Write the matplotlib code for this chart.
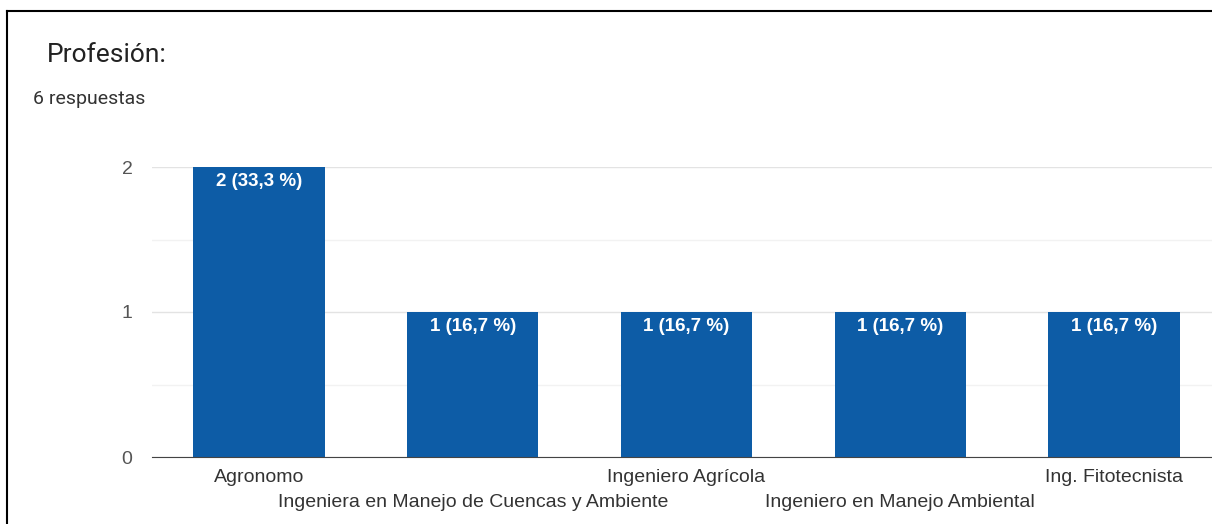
import matplotlib.pyplot as plt
from matplotlib.lines import Line2D

# datos de la encuesta
categorias = ['Agronomo', 'Ingeniera en Manejo de Cuencas y Ambiente', 'Ingeniero Agrícola',
              'Ingeniero en Manejo Ambiental', 'Ing. Fitotecnista']
respuestas = [2, 1, 1, 1, 1]
etiquetas = ['2 (33,3 %)', '1 (16,7 %)', '1 (16,7 %)', '1 (16,7 %)', '1 (16,7 %)']
total = 6

plt.rcParams['font.family'] = ['Liberation Sans', 'DejaVu Sans']

fig = plt.figure(figsize=(12.12, 5.24), dpi=100)
ax = fig.add_axes([152 / 1212, 67 / 524, 1069 / 1212, 290 / 524])

x = range(len(categorias))
ax.bar(x, respuestas, width=0.615, color='#0d5ca6', zorder=3)

# etiquetas dentro de las barras
for i, (v, t) in enumerate(zip(respuestas, etiquetas)):
    ax.annotate(t, (i, v), xytext=(0, -4), textcoords='offset points',
                ha='center', va='top', color='white', fontsize=13.5, fontweight='bold', zorder=4)

ax.set_xlim(-0.5, len(categorias) - 0.5)
ax.set_ylim(0, 2)
ax.set_yticks([0, 1, 2])
ax.set_yticks([0.5, 1.5], minor=True)
ax.grid(axis='y', which='major', color='#e3e3e3', linewidth=1, zorder=0)
ax.grid(axis='y', which='minor', color='#f2f2f2', linewidth=1, zorder=0)
ax.tick_params(axis='y', which='both', length=0, pad=14, labelsize=14, labelcolor='#555555')
for s in ['top', 'right', 'left']:
    ax.spines[s].set_visible(False)
ax.spines['bottom'].set_color('#444444')
ax.spines['bottom'].set_zorder(5)

# etiquetas del eje x en dos filas alternadas
ax.set_xticks(list(x))
ax.set_xticklabels([])
ax.tick_params(axis='x', length=0)
for i, c in enumerate(categorias):
    dy = -15 if i % 2 == 0 else -32.5
    ax.annotate(c, (i, 0), xytext=(0, dy), textcoords='offset points', ha='center', va='center',
                fontsize=14, color='#333333', annotation_clip=False)

fig.text(47 / 1212, 1 - 55 / 524, 'Profesión:', fontsize=19, color='#222222',
         family=['Roboto', 'DejaVu Sans'], va='center')
fig.text(33 / 1212, 1 - 99 / 524, f'{total} respuestas', fontsize=14, color='#333333',
         family=['Roboto', 'DejaVu Sans'], va='center')

# marco negro del recorte
fig.add_artist(Line2D([6.5 / 1212, 6.5 / 1212], [0, 1 - 11 / 524], color='black', linewidth=1.5))
fig.add_artist(Line2D([6.5 / 1212, 1], [1 - 11 / 524, 1 - 11 / 524], color='black', linewidth=1.5))

plt.savefig('out.png', dpi=100)
